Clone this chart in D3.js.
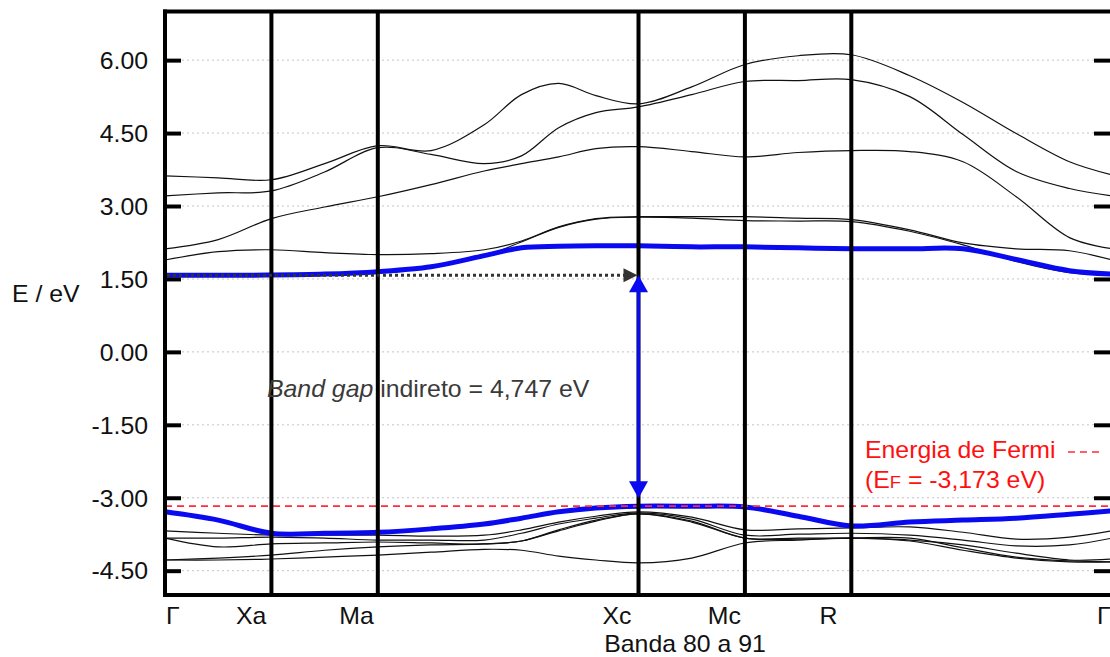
<!DOCTYPE html>
<html>
<head>
<meta charset="utf-8">
<script src="https://cdn.jsdelivr.net/npm/d3@7"></script>
<style>
  body { margin: 0; background: #fff; }
  svg { display: block; }
  text { font-family: "Liberation Sans", Arial, sans-serif; }
</style>
</head>
<body>
<svg id="chart" width="1110" height="657"></svg>
<script>
// k-path sample positions (path length units, Γ–Xa = 1)
const kPoints = [0, 0.5, 1, 1.5, 2, 2.5, 3, 3.35, 3.7, 4.05, 4.45, 4.95, 5.45, 5.95, 6.45, 7, 7.5, 8, 8.5, 8.9];

// high-symmetry points along the path
const symLabels = ["Γ", "Xa", "Ma", "Xc", "Mc", "R", "Γ"];
const symK = [0, 1, 2, 4.45, 5.45, 6.45, 8.9];

// energy axis ticks (eV)
const yTicks = [6.0, 4.5, 3.0, 1.5, 0.0, -1.5, -3.0, -4.5];

const fermiLevel = -3.173;   // eV
const bandGap = 4.747;       // eV, indirect Γ -> Xc
const gapK = 4.45;           // valence maximum at Xc

// valence bands (eV)
const band80 = [-4.28,-4.28,-4.26,-4.22,-4.18,-4.12,-4.06,-4.08,-4.20,-4.28,-4.34,-4.24,-3.93,-3.87,-3.83,-3.89,-4.08,-4.24,-4.32,-4.32];
const band81 = [-4.28,-4.24,-4.18,-4.08,-4.01,-3.97,-3.95,-3.89,-3.68,-3.48,-3.33,-3.50,-3.83,-3.85,-3.83,-3.83,-4.03,-4.22,-4.30,-4.32];
const band82 = [-3.83,-4.01,-3.95,-3.93,-3.91,-3.93,-3.95,-3.89,-3.66,-3.46,-3.33,-3.48,-3.83,-3.83,-3.83,-3.87,-3.97,-4.14,-4.28,-4.26];
const band83 = [-3.83,-3.83,-3.81,-3.83,-3.87,-3.87,-3.87,-3.73,-3.54,-3.42,-3.31,-3.44,-3.77,-3.75,-3.73,-3.77,-3.87,-3.99,-3.97,-3.83];
const band84 = [-3.68,-3.73,-3.77,-3.77,-3.77,-3.79,-3.77,-3.66,-3.50,-3.38,-3.29,-3.40,-3.66,-3.64,-3.62,-3.60,-3.71,-3.85,-3.81,-3.68];
const band85 = [-3.29,-3.46,-3.73,-3.73,-3.71,-3.64,-3.54,-3.42,-3.29,-3.21,-3.173,-3.175,-3.19,-3.38,-3.58,-3.50,-3.46,-3.42,-3.34,-3.27];
// conduction bands (eV)
const band86 = [1.574,1.575,1.58,1.60,1.65,1.75,1.98,2.14,2.17,2.18,2.18,2.16,2.16,2.14,2.12,2.12,2.12,1.90,1.67,1.60];
const band87 = [1.574,1.575,1.58,1.60,1.64,1.74,1.97,2.26,2.56,2.73,2.77,2.75,2.70,2.69,2.68,2.48,2.20,1.86,1.63,1.58];
const band88 = [1.89,2.06,2.10,2.04,2.00,2.02,2.10,2.28,2.57,2.74,2.78,2.78,2.78,2.75,2.72,2.51,2.24,2.12,2.08,1.89];
const band89 = [2.12,2.31,2.74,2.98,3.19,3.44,3.72,3.87,4.01,4.18,4.22,4.12,4.01,4.10,4.14,4.12,3.91,3.19,2.35,2.12];
const band90 = [3.21,3.27,3.31,3.70,4.20,4.06,3.87,4.03,4.61,4.92,5.04,5.29,5.56,5.58,5.60,5.25,4.47,3.71,3.36,3.21];
const band91 = [3.62,3.58,3.54,3.87,4.24,4.14,4.67,5.29,5.52,5.27,5.10,5.45,5.91,6.09,6.11,5.68,5.13,4.49,3.91,3.64];

const thinBands = [band80, band81, band82, band83, band84, band87, band88, band89, band90, band91];
const edgeBands = [band85, band86];

const cbm = fermiLevel + bandGap;

const svg = d3.select("#chart");
const FS = 23, SX = 1.08;   // font size and horizontal text stretch

const x = d3.scaleLinear().domain([0, 8.9]).range([165, 1112]);
const y = d3.scaleLinear().domain([-5, 7]).range([595, 11.5]);

const line = d3.line()
  .x((d, i) => x(kPoints[i]))
  .y(d => y(d))
  .curve(d3.curveCatmullRom.alpha(0.5));

function label(g, px, py, anchor) {
  return g.append("text")
    .attr("transform", `translate(${px},${py}) scale(${SX},1)`)
    .attr("text-anchor", anchor)
    .attr("font-size", FS);
}

// decimal comma, plain hyphen for negatives
const comma = (v, n) => v.toFixed(n).replace(".", ",");

// dotted horizontal grid
svg.append("g")
  .selectAll("line")
  .data(yTicks)
  .join("line")
  .attr("x1", 182).attr("x2", 1094)
  .attr("y1", d => y(d)).attr("y2", d => y(d))
  .attr("stroke", "#c4c4c4")
  .attr("stroke-width", 1)
  .attr("stroke-dasharray", "2,3");

// bands
const plot = svg.append("g");
plot.selectAll("path.thin")
  .data(thinBands)
  .join("path")
  .attr("class", "thin")
  .attr("d", line)
  .attr("fill", "none")
  .attr("stroke", "#111")
  .attr("stroke-width", 1.2);

plot.selectAll("path.edge")
  .data(edgeBands)
  .join("path")
  .attr("class", "edge")
  .attr("d", line)
  .attr("fill", "none")
  .attr("stroke", "#0a0af0")
  .attr("stroke-width", 5);

// Fermi level
svg.append("line")
  .attr("x1", x(0)).attr("x2", 1110)
  .attr("y1", y(fermiLevel)).attr("y2", y(fermiLevel))
  .attr("stroke", "#ff2a3a")
  .attr("stroke-width", 1.6)
  .attr("stroke-dasharray", "7,5");

// high-symmetry vertical lines
svg.append("g")
  .selectAll("line")
  .data(symK.slice(1, -1))
  .join("line")
  .attr("x1", d => x(d)).attr("x2", d => x(d))
  .attr("y1", y(7)).attr("y2", y(-5))
  .attr("stroke", "#000")
  .attr("stroke-width", 4);

// frame: left axis, top and bottom edges
const frame = svg.append("g").attr("stroke", "#000").attr("stroke-width", 4);
frame.append("line").attr("x1", x(0)).attr("x2", x(0)).attr("y1", y(7) - 2).attr("y2", y(-5) + 2);
frame.append("line").attr("x1", x(0) - 2).attr("x2", 1110).attr("y1", y(7)).attr("y2", y(7));
frame.append("line").attr("x1", x(0) - 2).attr("x2", 1110).attr("y1", y(-5)).attr("y2", y(-5));

// left axis ticks and labels
const yAxis = d3.axisLeft(y)
  .tickValues(yTicks)
  .tickSize(-16)
  .tickPadding(17)
  .tickFormat(d => d.toFixed(2));
const ya = svg.append("g").attr("transform", `translate(${x(0)},0)`).call(yAxis);
ya.select(".domain").remove();
ya.selectAll(".tick line").attr("stroke", "#000").attr("stroke-width", 4);
ya.selectAll(".tick text")
  .attr("font-size", FS)
  .attr("font-family", "Liberation Sans, Arial, sans-serif")
  .attr("fill", "#111")
  .attr("x", -17 / SX)
  .attr("dy", "0.36em")
  .attr("transform", `scale(${SX},1)`);

// right-side ticks
const yAxisR = d3.axisRight(y).tickValues(yTicks).tickSize(-16).tickFormat("");
const yr = svg.append("g").attr("transform", "translate(1110,0)").call(yAxisR);
yr.select(".domain").remove();
yr.selectAll(".tick line").attr("stroke", "#000").attr("stroke-width", 4);

// indirect gap: dotted arrow Γ -> Xc at the conduction minimum
const yC = y(cbm), xXc = x(gapK);
svg.append("line")
  .attr("x1", x(0) + 2).attr("x2", xXc - 14)
  .attr("y1", yC).attr("y2", yC)
  .attr("stroke", "#333")
  .attr("stroke-width", 3)
  .attr("stroke-dasharray", "3,3");
svg.append("path")
  .attr("d", `M${xXc - 1},${yC} L${xXc - 15},${yC - 7} L${xXc - 15},${yC + 7} Z`)
  .attr("fill", "#333");

// vertical double arrow between band edges at Xc
const yV = y(fermiLevel) - 8;
svg.append("line")
  .attr("x1", xXc).attr("x2", xXc)
  .attr("y1", yC + 10).attr("y2", yV - 10)
  .attr("stroke", "#0a0af0")
  .attr("stroke-width", 3.2);
svg.append("path")
  .attr("d", `M${xXc},${yC} L${xXc - 9.5},${yC + 17} L${xXc + 9.5},${yC + 17} Z`)
  .attr("fill", "#0a0af0");
svg.append("path")
  .attr("d", `M${xXc},${yV} L${xXc - 9.5},${yV - 17} L${xXc + 9.5},${yV - 17} Z`)
  .attr("fill", "#0a0af0");

// gap annotation
const gt = label(svg, 267, 397, "start").attr("fill", "#3a3a3a");
gt.append("tspan").attr("font-style", "italic").text("Band gap");
gt.append("tspan").text(` indireto = ${comma(bandGap, 3)} eV`);

// Fermi annotation
label(svg, 865, 458, "start").attr("fill", "#ff1010").text("Energia de Fermi");
svg.append("line")
  .attr("x1", 1068).attr("x2", 1100)
  .attr("y1", 452).attr("y2", 452)
  .attr("stroke", "#ff2a3a")
  .attr("stroke-width", 1.6)
  .attr("stroke-dasharray", "7,5");
const ft2 = label(svg, 865, 488, "start").attr("fill", "#ff1010");
ft2.append("tspan").text("(E");
ft2.append("tspan").attr("font-size", 17).text("F");
ft2.append("tspan").text(` = ${comma(fermiLevel, 3)} eV)`);

// high-symmetry point labels
const labelShift = [1, -5, -4, -7, -4, -14, -15];
symLabels.forEach((s, i) => {
  const px = x(symK[i]) + labelShift[i];
  const anchor = (i === 0 || i === symLabels.length - 1) ? "start" : "end";
  label(svg, px, 624, anchor).attr("fill", "#111").text(s);
});

// axis titles
label(svg, 12, 302, "start").attr("fill", "#111").text("E / eV");
label(svg, 685, 652, "middle").attr("fill", "#111").text("Banda 80 a 91");
</script>
</body>
</html>
